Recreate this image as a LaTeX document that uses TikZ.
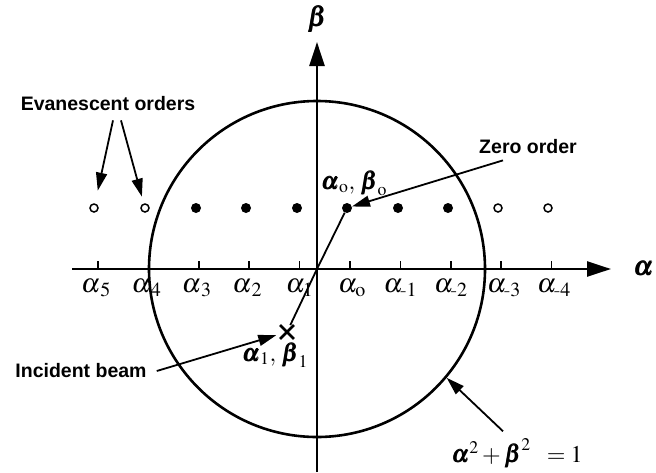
\documentclass[tikz,border=0pt]{standalone}
\usepackage{amsmath}
\usepackage{mathptmx}
\usepackage{bm}
\usepackage[no-math]{fontspec}
\setsansfont{Liberation Sans}
\usetikzlibrary{arrows.meta, positioning, shapes.misc}

\begin{document}
\begin{tikzpicture}[x=1pt, y=-1pt,
		every node/.style={inner sep=0pt},
		axis/.style={line width=2.4pt, -{Triangle[length=24pt, width=15pt]}},
		ring/.style={circle, draw, line width=2.6pt, minimum size=336pt},
		tickmark/.style={line width=1.6pt},
		prop/.style={circle, fill, minimum size=10pt},
		evan/.style={circle, draw, line width=1.5pt, minimum size=8pt},
		note/.style={font=\fontsize{19.5}{22}\selectfont\sffamily\bfseries},
		arr/.style={line width=1.8pt, -{Triangle[length=18pt, width=11pt]}},
		sym/.style={font=\fontsize{27}{31}\selectfont},
		pt/.style={font=\fontsize{24}{28}\selectfont},
		]
		\useasboundingbox (0,0) rectangle (656,472);

		% Axes
		\coordinate (O) at (317,269);
		\coordinate (xstart) at (72,269);
		\coordinate (xtip) at (611,269);
		\coordinate (ystart) at (317,472);
		\coordinate (ytip) at (317,42);
		\draw[axis] (xstart) -- (xtip);
		\draw[axis] (ystart) -- (ytip);
		\node[sym, right=22pt of xtip] (alab) {$\bm{\alpha}$};
		\node[sym, above=9pt of ytip] (blab) {$\bm{\beta}$};

		% Unit circle
		\node[ring] (unit) at (O) {};

		% Ticks and their labels
		\draw[tickmark] (98,269) -- ++(0,-8);
		\draw[tickmark] (148.4,269) -- ++(0,-8);
		\draw[tickmark] (198.8,269) -- ++(0,-8);
		\draw[tickmark] (249.2,269) -- ++(0,-8);
		\draw[tickmark] (299.6,269) -- ++(0,-8);
		\draw[tickmark] (350,269) -- ++(0,-8);
		\draw[tickmark] (400.4,269) -- ++(0,-8);
		\draw[tickmark] (450.8,269) -- ++(0,-8);
		\draw[tickmark] (501.2,269) -- ++(0,-8);
		\draw[tickmark] (551.6,269) -- ++(0,-8);
		\node[sym, anchor=north] (a5) at (96,279) {$\alpha_{\,5}$};
		\node[sym, anchor=north] (a4) at (146.4,279) {$\alpha_{\,4}$};
		\node[sym, anchor=north] (a3) at (196.8,279) {$\alpha_{\,3}$};
		\node[sym, anchor=north] (a2) at (247.2,279) {$\alpha_{\,2}$};
		\node[sym, anchor=north] (a1) at (299.6,279) {$\alpha_1$};
		\node[sym, anchor=north] (a0) at (352,279) {$\alpha_{\mathrm{o}}$};
		\node[sym, anchor=north] (am1) at (400.4,279) {$\alpha_{\text{-}1}$};
		\node[sym, anchor=north] (am2) at (450.8,279) {$\alpha_{\text{-}2}$};
		\node[sym, anchor=north] (am3) at (504,279) {$\alpha_{\text{-}3}$};
		\node[sym, anchor=north] (am4) at (554,279) {$\alpha_{\text{-}4}$};

		% Diffraction orders
		\node[evan] (d5) at (94,208) {};
		\node[evan] (d4) at (145,208) {};
		\node[prop] (d3) at (196,208) {};
		\node[prop] (d2) at (246,208) {};
		\node[prop] (d1) at (297,208) {};
		\node[prop] (d0) at (347,208) {};
		\node[prop] (dm1) at (398,208) {};
		\node[prop] (dm2) at (448,208) {};
		\node[evan] (dm3) at (498,208) {};
		\node[evan] (dm4) at (548,208) {};
		\node[pt] (d0lab) at (354,183) {$\bm{\alpha}_{\mathrm{o}},\,\bm{\beta}_{\mathrm{o}}$};

		% Incident point
		\node[cross out, draw, line width=2.8pt, minimum size=11pt] (inc) at (287,332) {};
		\node[pt] (inclab) at (275,355) {$\bm{\alpha}_{1},\,\bm{\beta}_{1}$};
		\draw[line width=1.8pt] (O) -- (d0);
		\draw[line width=1.8pt] (O) -- (inc);

		% Notes
		\node[note] (elab) at (108,104) {Evanescent orders};
		\node[note] (zlab) at (528,147) {Zero order};
		\node[note] (ilab) at (81,371) {Incident beam};
		\node[pt] (clab) at (517,453) {$\bm{\alpha}^2+\bm{\beta}^2\;\;=1$};

		% Arrows
		\draw[arr, shorten >=13pt] ([xshift=5pt, yshift=-9pt]elab.south) -- (d5);
		\draw[arr, shorten >=7pt] ([xshift=13pt, yshift=-9pt]elab.south) -- (d4);
		\draw[arr] ([xshift=-25pt, yshift=-6pt]zlab.south) -- (d0);
		\draw[arr, shorten >=4pt] ([xshift=10pt]ilab.east) -- (inc);
		\draw[arr] ([xshift=-14pt, yshift=7pt]clab.north) -- (unit.-40);
\end{tikzpicture}
\end{document}
